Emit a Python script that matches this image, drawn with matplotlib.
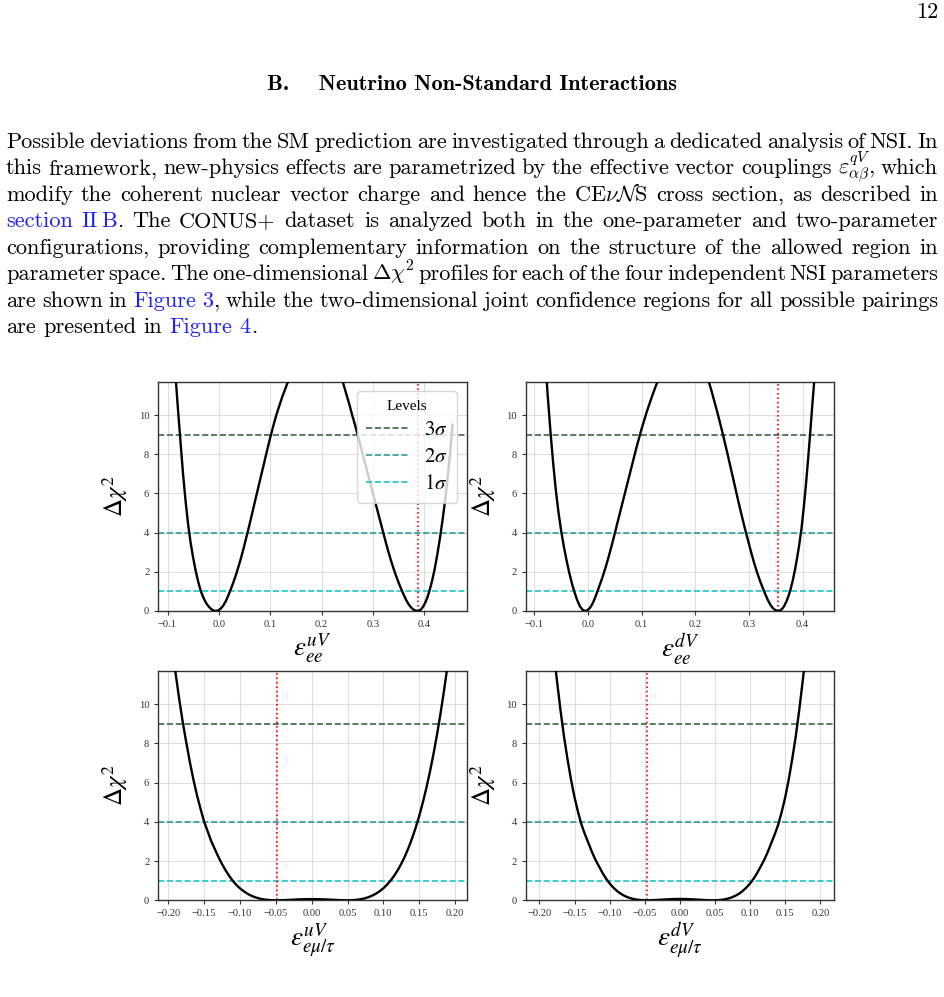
import matplotlib
matplotlib.use("Agg")
import matplotlib.pyplot as plt
from matplotlib.ticker import MultipleLocator

# ---------------- data ----------------
x_ee_u = [-0.090, -0.085, -0.080, -0.075, -0.070, -0.065, -0.060, -0.055, -0.050, -0.045,
          -0.040, -0.035, -0.030, -0.025, -0.020, -0.015, -0.010, -0.006, -0.002, 0.003,
          0.008, 0.013, 0.018, 0.023, 0.028, 0.033, 0.038, 0.043, 0.048, 0.053,
          0.058, 0.063, 0.068, 0.073, 0.078, 0.083, 0.088, 0.093, 0.098, 0.103,
          0.108, 0.113, 0.118, 0.123, 0.128, 0.133, 0.138, 0.150, 0.170, 0.190,
          0.210, 0.225, 0.235, 0.240, 0.245, 0.250, 0.255, 0.260, 0.265, 0.270,
          0.275, 0.280, 0.285, 0.290, 0.295, 0.300, 0.305, 0.310, 0.315, 0.320,
          0.325, 0.330, 0.335, 0.340, 0.345, 0.350, 0.355, 0.360, 0.365, 0.370,
          0.375, 0.380, 0.384, 0.387, 0.390, 0.394, 0.398, 0.402, 0.406, 0.410,
          0.415, 0.420, 0.425, 0.430, 0.435, 0.440, 0.445, 0.450, 0.455]
chi_ee_u = [14.0, 12.2, 10.4, 8.7, 7.05, 5.64, 4.43, 3.47, 2.69, 2.02,
            1.46, 1.0, 0.67, 0.41, 0.23, 0.096, 0.019, 0.0, 0.021, 0.108,
            0.26, 0.48, 0.77, 1.10, 1.45, 1.83, 2.25, 2.70, 3.19, 3.71,
            4.24, 4.79, 5.34, 5.9, 6.45, 7.0, 7.55, 8.1, 8.65, 9.15,
            9.65, 10.1, 10.5, 10.9, 11.25, 11.6, 11.9, 12.6, 13.3, 13.5,
            13.2, 12.6, 12.1, 11.8, 11.35, 10.9, 10.45, 9.95, 9.5, 9.0,
            8.5, 8.0, 7.5, 7.0, 6.5, 6.0, 5.5, 5.0, 4.5, 4.0,
            3.5, 3.03, 2.58, 2.17, 1.79, 1.44, 1.12, 0.82, 0.54, 0.32,
            0.16, 0.054, 0.01, 0.0, 0.018, 0.095, 0.235, 0.44, 0.70, 1.03,
            1.53, 2.12, 2.84, 3.65, 4.55, 5.55, 6.7, 8.0, 9.5]

x_ee_d = [-0.090, -0.080, -0.075, -0.070, -0.065, -0.060, -0.055, -0.050, -0.045, -0.040,
          -0.035, -0.030, -0.025, -0.020, -0.015, -0.010, -0.0056, -0.001, 0.004, 0.009,
          0.014, 0.019, 0.024, 0.029, 0.034, 0.039, 0.044, 0.049, 0.054, 0.060,
          0.066, 0.072, 0.078, 0.084, 0.090, 0.096, 0.100, 0.105, 0.110, 0.115,
          0.120, 0.126, 0.135, 0.150, 0.175, 0.200, 0.215, 0.2248, 0.230, 0.235,
          0.240, 0.245, 0.250, 0.255, 0.260, 0.265, 0.270, 0.275, 0.280, 0.285,
          0.290, 0.2944, 0.300, 0.305, 0.310, 0.315, 0.320, 0.325, 0.330, 0.335,
          0.340, 0.345, 0.350, 0.3547, 0.358, 0.362, 0.366, 0.370, 0.374, 0.378,
          0.382, 0.386, 0.390, 0.394, 0.398, 0.402, 0.406, 0.410, 0.414, 0.418,
          0.423, 0.428, 0.433]
chi_ee_d = [17.0, 13.0, 11.0, 9.2, 7.6, 6.2, 5.05, 4.1, 3.3, 2.6,
            1.97, 1.42, 0.95, 0.55, 0.24, 0.06, 0.0, 0.04, 0.17, 0.40,
            0.73, 1.11, 1.48, 1.89, 2.33, 2.81, 3.32, 3.85, 4.4, 5.05,
            5.7, 6.35, 7.0, 7.65, 8.3, 8.9, 9.3, 9.75, 10.2, 10.6,
            11.0, 11.45, 12.05, 12.9, 13.6, 13.2, 12.6, 11.73, 11.25, 10.75,
            10.25, 9.72, 9.17, 8.6, 8.02, 7.42, 6.82, 6.22, 5.62, 5.04,
            4.48, 4.0, 3.42, 2.9, 2.42, 1.98, 1.58, 1.22, 0.88, 0.57,
            0.31, 0.13, 0.03, 0.0, 0.023, 0.113, 0.27, 0.50, 0.79, 1.16,
            1.61, 2.14, 2.75, 3.44, 4.24, 5.25, 6.4, 7.69, 9.05, 10.5,
            12.2, 14.0, 15.8]

x_emt_u = [-0.195, -0.190, -0.185, -0.180, -0.175, -0.170, -0.165, -0.160, -0.155, -0.150,
           -0.145, -0.140, -0.135, -0.130, -0.125, -0.120, -0.115, -0.110, -0.105, -0.100,
           -0.095, -0.090, -0.085, -0.080, -0.075, -0.070, -0.065, -0.060, -0.055, -0.049,
           -0.040, -0.030, -0.020, -0.010, 0.000, 0.010, 0.020, 0.030, 0.040, 0.049,
           0.055, 0.060, 0.065, 0.070, 0.075, 0.080, 0.085, 0.090, 0.095, 0.100,
           0.105, 0.110, 0.115, 0.120, 0.125, 0.130, 0.135, 0.140, 0.145, 0.150,
           0.155, 0.160, 0.165, 0.170, 0.175, 0.180, 0.185, 0.190, 0.195]
chi_emt_u = [13.0, 11.6, 10.3, 9.1, 8.05, 7.05, 6.15, 5.35, 4.65, 4.0,
             3.5, 3.0, 2.6, 2.2, 1.84, 1.52, 1.24, 0.99, 0.78, 0.61,
             0.466, 0.345, 0.247, 0.170, 0.111, 0.066, 0.035, 0.015, 0.004, 0.0,
             0.007, 0.024, 0.043, 0.056, 0.061, 0.056, 0.043, 0.024, 0.007, 0.0,
             0.004, 0.015, 0.035, 0.066, 0.111, 0.170, 0.247, 0.345, 0.466, 0.614,
             0.791, 1.0, 1.246, 1.531, 1.859, 2.235, 2.662, 3.145, 3.688, 4.295,
             4.971, 5.722, 6.551, 7.465, 8.468, 9.567, 10.77, 12.07, 13.49]

x_emt_d = [-0.200, -0.190, -0.180, -0.175, -0.170, -0.165, -0.160, -0.155, -0.150, -0.145,
           -0.140, -0.135, -0.130, -0.125, -0.120, -0.115, -0.110, -0.105, -0.100, -0.095,
           -0.090, -0.085, -0.080, -0.075, -0.070, -0.065, -0.060, -0.055, -0.047, -0.040,
           -0.030, -0.020, -0.010, 0.000, 0.010, 0.020, 0.030, 0.040, 0.047, 0.055,
           0.060, 0.065, 0.070, 0.075, 0.080, 0.085, 0.090, 0.095, 0.100, 0.105,
           0.110, 0.115, 0.120, 0.125, 0.130, 0.135, 0.140, 0.145, 0.150, 0.155,
           0.160, 0.165, 0.170, 0.175, 0.180, 0.190, 0.200]
chi_emt_d = [19.0, 15.6, 12.8, 11.2, 9.7, 8.35, 7.2, 6.15, 5.25, 4.5,
             3.85, 3.35, 2.9, 2.45, 2.05, 1.72, 1.386, 1.101, 0.86, 0.658,
             0.492, 0.356, 0.249, 0.165, 0.103, 0.058, 0.027, 0.0094, 0.0, 0.005,
             0.024, 0.046, 0.063, 0.069, 0.063, 0.046, 0.024, 0.005, 0.0, 0.0094,
             0.027, 0.058, 0.103, 0.165, 0.249, 0.356, 0.492, 0.658, 0.86, 1.101,
             1.386, 1.72, 2.05, 2.45, 2.9, 3.35, 3.85, 4.5, 5.25, 6.15,
             7.2, 8.35, 9.7, 11.2, 12.8, 15.6, 19.0]

best_fit = [0.387, 0.3534, -0.048, -0.047]
levels = [9, 4, 1]
level_labels = [r"$3\sigma$", r"$2\sigma$", r"$1\sigma$"]
level_colors = ["#3d6549", "#2a9c98", "#1fc2c6"]
x_labels = [r"$\varepsilon^{uV}_{ee}$", r"$\varepsilon^{dV}_{ee}$",
            r"$\varepsilon^{uV}_{e\mu/\tau}$", r"$\varepsilon^{dV}_{e\mu/\tau}$"]

# ---------------- page text ----------------
page_number = "12"
heading = "B.    Neutrino Non-Standard Interactions"
BLUE = "#1f1ff0"
para_lines = [
    "Possible deviations from the SM prediction are investigated through a dedicated analysis of NSI. In",
    r"this framework, new-physics effects are parametrized by the effective vector couplings $\varepsilon^{qV}_{\alpha\beta}$, which",
    r"modify the coherent nuclear vector charge and hence the CE$\nu\mathcal{N}$S cross section, as described in",
    "§section §II|~|§B|. The CONUS+ dataset is analyzed both in the one-parameter and two-parameter",
    "configurations, providing complementary information on the structure of the allowed region in",
    r"parameter space. The one-dimensional $\Delta\chi^2$ profiles for each of the four independent NSI parameters",
    "are shown in §Figure §3|, while the two-dimensional joint confidence regions for all possible pairings",
    "are presented in §Figure §4|.",
]

# ---------------- figure ----------------
W, H = 945, 997
plt.rcParams["mathtext.fontset"] = "stix"
plt.rcParams["font.family"] = ["Liberation Serif", "DejaVu Serif"]
plt.rcParams["axes.unicode_minus"] = True

fig = plt.figure(figsize=(W / 100, H / 100), dpi=100)


def px_axes(x0, y0, x1, y1):
    return fig.add_axes([x0 / W, 1 - y1 / H, (x1 - x0) / W, (y1 - y0) / H])


panels = [
    (px_axes(158.3, 381.7, 466.7, 611.0), x_ee_u, chi_ee_u, (-0.118, 0.4825), 0.1),
    (px_axes(525.7, 381.7, 834.3, 611.0), x_ee_d, chi_ee_d, (-0.116, 0.459), 0.1),
    (px_axes(158.3, 670.7, 466.7, 900.3), x_emt_u, chi_emt_u, (-0.214, 0.2163), 0.05),
    (px_axes(525.7, 670.7, 834.3, 900.3), x_emt_d, chi_emt_d, (-0.2195, 0.2199), 0.05),
]

for i, (ax, xs, ys, xlim, step) in enumerate(panels):
    ax.plot(xs, ys, color="black", lw=1.7, zorder=3, solid_joinstyle="round")
    for lv, lab, col in zip(levels, level_labels, level_colors):
        ax.axhline(lv, color=col, ls="--", lw=1.2, label=lab, zorder=2)
    ax.axvline(best_fit[i], color="red", ls=":", lw=1.2, zorder=2.5)
    ax.set_xlim(*xlim)
    ax.set_ylim(0, 11.7)
    ax.xaxis.set_major_locator(MultipleLocator(step))
    ax.yaxis.set_major_locator(MultipleLocator(2))
    ax.grid(True, color="#d0d0d0", lw=0.8, alpha=0.7, zorder=0)
    ax.set_axisbelow(True)
    ax.tick_params(labelsize=7.6, colors="#333333", length=3, width=0.8)
    for sp in ax.spines.values():
        sp.set_color("#333333")
        sp.set_linewidth(1.0)
    ax.set_ylabel(r"$\Delta\chi^2$", fontsize=18, labelpad=6)
    ax.set_xlabel(x_labels[i], fontsize=19.5, labelpad=2)
    if i == 0:
        leg = ax.legend(title="Levels", loc="upper right", fontsize=15,
                        title_fontsize=11, framealpha=0.8, handlelength=2.0,
                        borderaxespad=0.45, labelspacing=0.35, borderpad=0.45)
        leg.get_frame().set_edgecolor("#cccccc")

# ---------------- page text rendering ----------------
BASE_FS = 16.6
TXT = dict(fontfamily="cmr10", math_fontfamily="cm")
r = fig.canvas.get_renderer()


def build_word(word, fs):
    segs = []
    for part in word.split("|"):
        if part == "~":
            segs.append([None, 3.0])
            continue
        col = "black"
        if part.startswith("§"):
            part = part[1:]
            col = BLUE
        t = fig.text(0, 0, part, va="baseline", ha="left", color=col, fontsize=fs, **TXT)
        segs.append([t, t.get_window_extent(renderer=r).width])
    return segs


LEFT, RIGHT = 6.0, 938.0
MIN_GAP = 3.8
all_words = [[build_word(w, BASE_FS) for w in line.split(" ")] for line in para_lines]
scale = 1.0
for li, words in enumerate(all_words[:-1]):
    nat = sum(w for segs in words for t, w in segs if t is not None)
    fixed = sum(w for segs in words for t, w in segs if t is None)
    s = (RIGHT - LEFT - fixed - MIN_GAP * (len(words) - 1)) / nat
    scale = min(scale, s)
FS = BASE_FS * scale
for words in all_words:
    for segs in words:
        for seg in segs:
            if seg[0] is not None:
                seg[0].set_fontsize(FS)
                seg[1] = seg[0].get_window_extent(renderer=r).width

fig.text(938 / W, 1 - 18 / H, page_number, ha="right", va="baseline", fontsize=FS, **TXT)
fig.text(472 / W, 1 - 89.5 / H, heading, ha="center", va="baseline",
         fontfamily="cmb10", fontsize=FS)

probe = fig.text(0, 0, "a a", fontsize=FS, **TXT)
sw = probe.get_window_extent(renderer=r).width
probe.set_text("aa")
sw -= probe.get_window_extent(renderer=r).width
probe.remove()

y0, dy = 148.0, 26.45
for li, words in enumerate(all_words):
    widths = [sum(w for _, w in segs) for segs in words]
    if li < len(all_words) - 1:
        gap = (RIGHT - LEFT - sum(widths)) / (len(words) - 1)
    else:
        gap = sw
    x = LEFT
    ybase = y0 + li * dy
    for segs, wsum in zip(words, widths):
        xx = x
        for t, w in segs:
            if t is not None:
                t.set_position((xx / W, 1 - ybase / H))
            xx += w
        x += wsum + gap

fig.savefig("out.png", dpi=100)
